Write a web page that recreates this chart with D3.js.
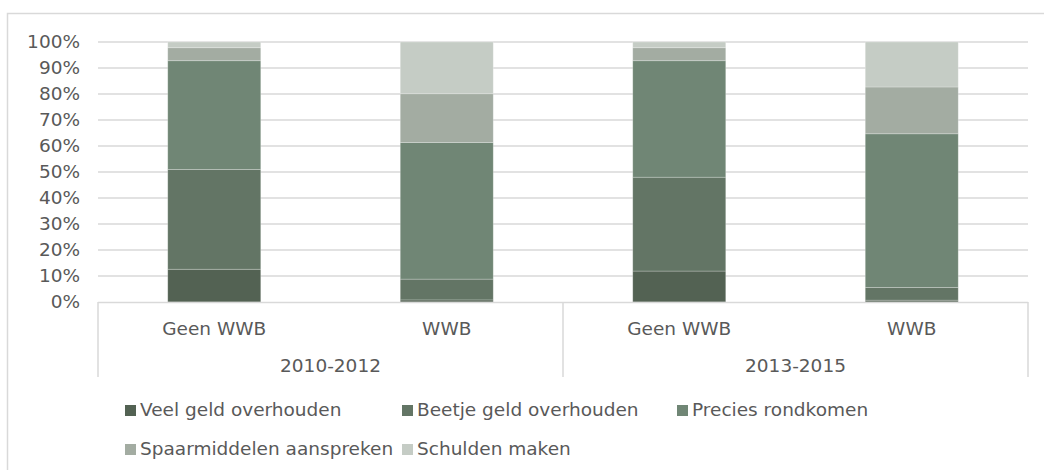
<!DOCTYPE html>
<html>
<head>
<meta charset="utf-8">
<script src="https://cdn.jsdelivr.net/npm/d3@7"></script>
<style>
  body { margin: 0; background: #fff; }
  text { font-family: "DejaVu Sans", Verdana, sans-serif; fill: #595959; }
</style>
</head>
<body>
<script>
// categories (inner level) and periods (outer level)
var categories = ["Geen WWB", "WWB", "Geen WWB", "WWB"];
var periods = ["2010-2012", "2013-2015"];

// series names
var seriesNames = ["Veel geld overhouden", "Beetje geld overhouden", "Precies rondkomen",
                   "Spaarmiddelen aanspreken", "Schulden maken"];

// values (%) per bar
var veel     = [12.6, 0.8, 11.9, 0.7];
var beetje   = [38.4, 8.0, 36.1, 4.9];
var precies  = [41.8, 52.5, 44.8, 59.1];
var spaar    = [5.0, 18.8, 5.0, 18.0];
var schulden = [2.2, 19.9, 2.2, 17.3];

var tickValues = [0, 10, 20, 30, 40, 50, 60, 70, 80, 90, 100];

var colors = ["#536253", "#637565", "#708675", "#a3aca2", "#c5ccc5"];

// build rows for the stack
var allSeries = [veel, beetje, precies, spaar, schulden];
var rows = categories.map(function(c, i) {
	var r = {idx: i};
	seriesNames.forEach(function(s, j) { r[s] = allSeries[j][i]; });
	return r;
});

// Define plot area
var margin = {top: 42, right: 1028, bottom: 302, left: 98};
var width = 1044, height = 470;
var fontSize = "18.5px";

var svg = d3.select("body").append("svg")
	.attr("width", width)
	.attr("height", height);

// outer chart border (cut off at right and bottom like the reference)
svg.append("rect")
	.attr("x", 7.5).attr("y", 13.5)
	.attr("width", 1100).attr("height", 500)
	.attr("fill", "none")
	.attr("stroke", "#d9d9d9")
	.attr("stroke-width", 1.5);

var x = d3.scaleBand()
	.domain(d3.range(categories.length))
	.range([margin.left, margin.right])
	.paddingInner(0.6)
	.paddingOuter(0.3);

var y = d3.scaleLinear()
	.domain([0, 100])
	.range([margin.bottom, margin.top]);

// gridlines
svg.append("g")
	.selectAll("line")
	.data(tickValues.slice(1))
	.enter().append("line")
	.attr("x1", margin.left).attr("x2", margin.right)
	.attr("y1", function(d) { return y(d); })
	.attr("y2", function(d) { return y(d); })
	.attr("stroke", "#d9d9d9")
	.attr("stroke-width", 1.3);

// y axis labels
var yAxis = d3.axisLeft(y)
	.tickValues(tickValues)
	.tickSize(0)
	.tickPadding(18)
	.tickFormat(function(d) { return d + "%"; });

var yg = svg.append("g")
	.attr("transform", "translate(" + margin.left + ",0)")
	.call(yAxis);
yg.select(".domain").remove();
yg.selectAll("text")
	.style("font-size", fontSize)
	.style("font-family", "'DejaVu Sans', Verdana, sans-serif")
	.attr("fill", "#595959");

// stacked bars
var stack = d3.stack().keys(seriesNames);
var layers = stack(rows);

svg.append("g")
	.selectAll("g")
	.data(layers)
	.enter().append("g")
	.attr("fill", function(d, i) { return colors[i]; })
	.selectAll("rect")
	.data(function(d) { return d; })
	.enter().append("rect")
	.attr("x", function(d) { return x(d.data.idx); })
	.attr("y", function(d) { return y(d[1]); })
	.attr("width", x.bandwidth())
	.attr("height", function(d) { return y(d[0]) - y(d[1]); })
	.attr("stroke", "#ffffff")
	.attr("stroke-opacity", 0.3)
	.attr("stroke-width", 0.8);

// category axis line
svg.append("line")
	.attr("x1", margin.left).attr("x2", margin.right)
	.attr("y1", margin.bottom + 0.5).attr("y2", margin.bottom + 0.5)
	.attr("stroke", "#d9d9d9")
	.attr("stroke-width", 1.5);

// group separators
var step = x.step();
var sepX = [margin.left, x(2) - step * x.paddingInner() / 2, margin.right];
svg.append("g")
	.selectAll("line")
	.data(sepX)
	.enter().append("line")
	.attr("x1", function(d) { return d; })
	.attr("x2", function(d) { return d; })
	.attr("y1", margin.bottom)
	.attr("y2", 377)
	.attr("stroke", "#d9d9d9")
	.attr("stroke-width", 1.5);

// inner category labels
svg.append("g")
	.selectAll("text")
	.data(categories)
	.enter().append("text")
	.attr("x", function(d, i) { return x(i) + x.bandwidth() / 2; })
	.attr("y", 335)
	.attr("text-anchor", "middle")
	.style("font-size", fontSize)
	.text(function(d) { return d; });

// period labels
svg.append("g")
	.selectAll("text")
	.data(periods)
	.enter().append("text")
	.attr("x", function(d, i) { return (sepX[i] + sepX[i + 1]) / 2; })
	.attr("y", 372)
	.attr("text-anchor", "middle")
	.style("font-size", fontSize)
	.text(function(d) { return d; });

// legend
var legendPos = [[125, 416], [402, 416], [677, 416], [125, 455], [402, 455]];
var legend = svg.append("g")
	.selectAll("g")
	.data(seriesNames)
	.enter().append("g")
	.attr("transform", function(d, i) {
		return "translate(" + legendPos[i][0] + "," + legendPos[i][1] + ")";
	});

legend.append("rect")
	.attr("x", 0).attr("y", -11)
	.attr("width", 11).attr("height", 11)
	.attr("fill", function(d, i) { return colors[i]; });

legend.append("text")
	.attr("x", 15).attr("y", 0)
	.style("font-size", fontSize)
	.text(function(d) { return d; });
</script>
</body>
</html>
